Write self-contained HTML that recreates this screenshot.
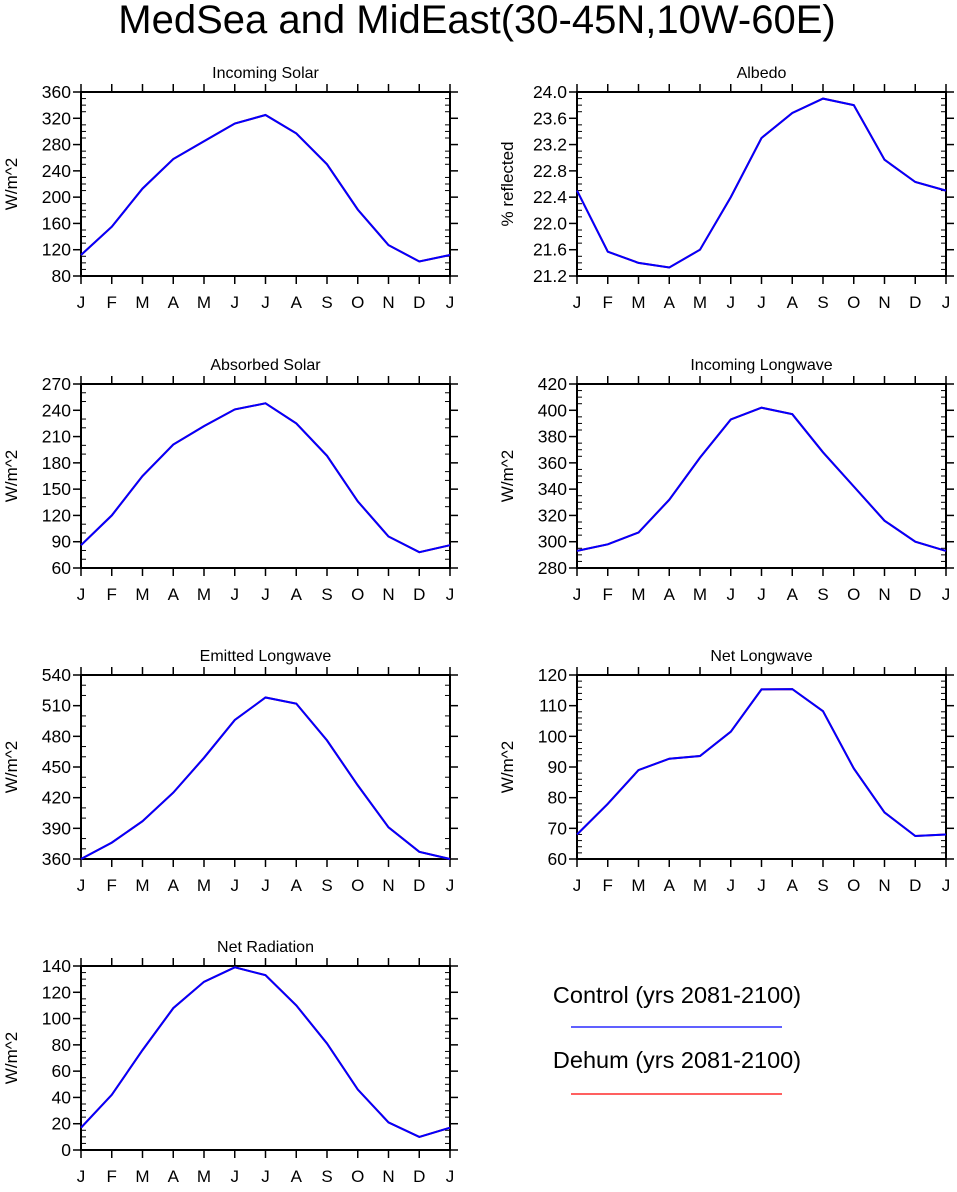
<!DOCTYPE html>
<html><head><meta charset="utf-8"><style>
body{margin:0;background:#fff;}
svg text{font-family:"Liberation Sans",Helvetica,sans-serif;fill:#000;}
</style></head><body>
<svg id="c" width="957" height="1187" xmlns="http://www.w3.org/2000/svg">
<text x="477" y="33" font-size="40" text-anchor="middle">MedSea and MidEast(30-45N,10W-60E)</text>
<text x="677" y="1003" font-size="23.5" text-anchor="middle">Control (yrs 2081-2100)</text>
<line x1="571" y1="1027" x2="782" y2="1027" stroke="#0000ff" stroke-width="1.2"/>
<text x="677" y="1068" font-size="23.5" text-anchor="middle">Dehum (yrs 2081-2100)</text>
<line x1="571" y1="1094" x2="782" y2="1094" stroke="#ff0000" stroke-width="1.2"/>
</svg>
<script>
const months = ["J","F","M","A","M","J","J","A","S","O","N","D","J"];
const incomingSolar = [112,155,213,258,285,312,325,297,250,181,127,102,112];
const albedo = [22.5,21.57,21.4,21.33,21.6,22.4,23.3,23.68,23.9,23.8,22.97,22.63,22.5];
const absorbedSolar = [86,120,165,201,222,241,248,225,188,136,96,78,86];
const incomingLW = [293,298,307,332,364,393,402,397,368,342,316,300,293];
const emittedLW = [360,376,397,425,459,496,518,512,476,432,391,367,360];
const netLW = [68,78,89,92.7,93.6,101.5,115.3,115.4,108.2,89.5,75.2,67.5,68];
const netRad = [17,42,76,108,128,139,133,110,81,46,21,10,17];
const ticksSolar = [80,120,160,200,240,280,320,360];
const ticksAlbedo = [21.2,21.6,22.0,22.4,22.8,23.2,23.6,24.0];
const ticksAbs = [60,90,120,150,180,210,240,270];
const ticksILW = [280,300,320,340,360,380,400,420];
const ticksELW = [360,390,420,450,480,510,540];
const ticksNLW = [60,70,80,90,100,110,120];
const ticksNR = [0,20,40,60,80,100,120,140];

const NS="http://www.w3.org/2000/svg";
const svg=document.getElementById('c');
function mk(tag,attrs,parent){const e=document.createElementNS(NS,tag);for(const k in attrs)e.setAttribute(k,attrs[k]);(parent||svg).appendChild(e);return e;}

const panels=[
 {name:"incoming-solar",title:"Incoming Solar",ylab:"W/m^2",x0:81,y0:92,data:incomingSolar,ticks:ticksSolar,minor:4,dec:0},
 {name:"albedo",title:"Albedo",ylab:"% reflected",x0:577,y0:92,data:albedo,ticks:ticksAlbedo,minor:4,dec:1},
 {name:"absorbed-solar",title:"Absorbed Solar",ylab:"W/m^2",x0:81,y0:384,data:absorbedSolar,ticks:ticksAbs,minor:3,dec:0},
 {name:"incoming-longwave",title:"Incoming Longwave",ylab:"W/m^2",x0:577,y0:384,data:incomingLW,ticks:ticksILW,minor:4,dec:0},
 {name:"emitted-longwave",title:"Emitted Longwave",ylab:"W/m^2",x0:81,y0:675,data:emittedLW,ticks:ticksELW,minor:3,dec:0},
 {name:"net-longwave",title:"Net Longwave",ylab:"W/m^2",x0:577,y0:675,data:netLW,ticks:ticksNLW,minor:5,dec:0},
 {name:"net-radiation",title:"Net Radiation",ylab:"W/m^2",x0:81,y0:966,data:netRad,ticks:ticksNR,minor:4,dec:0}
];
const W=369,H=184;
panels.forEach(p=>{
  const g=mk('g',{});
  
  
  const lo=p.ticks[0],hi=p.ticks[p.ticks.length-1];
  const xs=i=>p.x0+i*W/(months.length-1);
  const ys=v=>p.y0+H-(v-lo)/(hi-lo)*H;
  const t=mk('text',{x:p.x0+W/2,y:p.y0-14,'font-size':16,'text-anchor':'middle'},g);
  t.textContent=p.title;
  
  
  const yl=mk('text',{x:0,y:0,'font-size':17,'text-anchor':'middle',transform:`translate(${p.x0-64},${p.y0+H/2}) rotate(-90)`},g);
  yl.textContent=p.ylab;
  
  
  const step=p.ticks[1]-p.ticks[0];
  p.ticks.forEach((v,k)=>{
    const y=ys(v);
    mk('line',{x1:p.x0-8,y1:y,x2:p.x0,y2:y,stroke:'#000','stroke-width':1.5},g);
    mk('line',{x1:p.x0+W,y1:y,x2:p.x0+W+8,y2:y,stroke:'#000','stroke-width':1.5},g);
    const lb=mk('text',{x:p.x0-10,y:y+6,'font-size':17.5,'text-anchor':'end'},g);
    lb.textContent=v.toFixed(p.dec);
    
    
    if(k<p.ticks.length-1){for(let m=1;m<p.minor;m++){const yy=ys(v+step*m/p.minor);
      mk('line',{x1:p.x0,y1:yy,x2:p.x0+5,y2:yy,stroke:'#000','stroke-width':1},g);
      mk('line',{x1:p.x0+W-5,y1:yy,x2:p.x0+W,y2:yy,stroke:'#000','stroke-width':1},g);}}
  });
  months.forEach((m,i)=>{
    const x=xs(i);
    mk('line',{x1:x,y1:p.y0+H,x2:x,y2:p.y0+H+8,stroke:'#000','stroke-width':1.5},g);
    mk('line',{x1:x,y1:p.y0-8,x2:x,y2:p.y0,stroke:'#000','stroke-width':1.5},g);
    const lb=mk('text',{x:x,y:p.y0+H+32,'font-size':17,'text-anchor':'middle'},g);
    lb.textContent=m;
    
    
  });
  mk('rect',{x:p.x0,y:p.y0,width:W,height:H,fill:'none',stroke:'#000','stroke-width':2},g);
  const pts=p.data.map((v,i)=>xs(i).toFixed(1)+','+ys(v).toFixed(1)).join(' ');
  const r=mk('polyline',{points:pts,fill:'none',stroke:'#ff0000','stroke-width':2},g);
  
  
  const b=mk('polyline',{points:pts,fill:'none',stroke:'#0000ff','stroke-width':2},g);
  
  
});
</script>
</body></html>
